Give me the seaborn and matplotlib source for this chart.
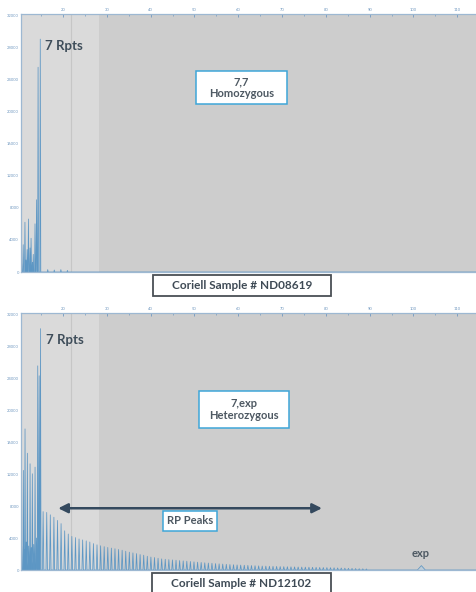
import numpy as np
import pandas as pd
import matplotlib
matplotlib.use("Agg")
import matplotlib.pyplot as plt
from matplotlib.patches import Rectangle
import seaborn as sns

# ---------------- data ----------------
# x positions (instrument units) and peak heights (RFU)
top_pos = [10.50, 10.90, 11.30, 11.55, 11.80, 12.10, 12.45, 12.70, 13.00, 13.20,
           13.60, 13.95, 14.30, 14.80, 16.5, 18.0, 19.5, 21.0]
top_h = [1800, 3400, 6200, 1500, 2800, 6600, 3000, 4200, 1200, 2200,
         6000, 9000, 25500, 29000, 300, 250, 300, 200]

bot_cluster_pos = [10.55, 10.94, 11.15, 11.32, 11.60, 11.85, 12.15, 12.47, 12.75,
                   12.99, 13.30, 13.61, 13.95, 14.22, 14.55, 14.85]
bot_cluster_h = [3000, 12450, 2500, 17640, 3500, 14600, 3000, 13280, 2800,
                 12030, 3200, 12860, 4000, 25520, 24280, 30170]

rp_pos = [15.45, 16.27, 17.09, 17.91, 18.73, 19.55, 20.37, 21.19, 22.01, 22.83,
          23.65, 24.47, 25.29, 26.11, 26.93, 27.75, 28.57, 29.39, 30.21, 31.03,
          31.85, 32.67, 33.49, 34.31, 35.13, 35.95, 36.77, 37.59, 38.41, 39.23,
          40.05, 40.87, 41.69, 42.51, 43.33, 44.15, 44.97, 45.79, 46.61, 47.43,
          48.25, 49.07, 49.89, 50.71, 51.53, 52.35, 53.17, 53.99, 54.81, 55.63,
          56.45, 57.27, 58.09, 58.91, 59.73, 60.55, 61.37, 62.19, 63.01, 63.83,
          64.65, 65.47, 66.29, 67.11, 67.93, 68.75, 69.57, 70.39, 71.21, 72.03,
          72.85, 73.67, 74.49, 75.31, 76.13, 76.95, 77.77, 78.59, 79.41, 80.23,
          81.05, 81.87, 82.69, 83.51, 84.33, 85.15, 85.97, 86.79, 87.61, 88.43,
          89.25]
rp_h = [7300, 7200, 6900, 6600, 6200, 5800, 4900, 4500, 4200, 4050,
        3880, 3760, 3640, 3500, 3300, 3150, 3030, 2920, 2820, 2740,
        2660, 2570, 2470, 2350, 2230, 2140, 2050, 1930, 1850, 1720,
        1620, 1560, 1470, 1390, 1340, 1300, 1260, 1220, 1180, 1140,
        1100, 1060, 1020, 980, 940, 900, 870, 840, 800, 770,
        740, 710, 680, 660, 640, 620, 600, 580, 560, 540,
        520, 500, 490, 470, 460, 450, 430, 420, 410, 400,
        390, 380, 370, 360, 350, 340, 330, 320, 310, 300,
        290, 280, 260, 250, 230, 210, 200, 180, 160, 150,
        130]

exp_pos = [101.8]
exp_h = [550]

x_ticks = [20, 30, 40, 50, 60, 70, 80, 90, 100, 110]
y_ticks = [0, 4000, 8000, 12000, 16000, 20000, 24000, 28000, 32000]

captions = ["Coriell Sample # ND08619", "Coriell Sample # ND12102"]
genotypes = ["7,7\nHomozygous", "7,exp\nHeterozygous"]
peak_label = "7 Rpts"

XMIN, XMAX = 10.4, 114.5
YMAX = 32000


def trace(positions, heights, width):
    xs, ys = [XMIN], [0]
    for p, h, w in sorted(zip(positions, heights, width)):
        xs += [p - w, p, p + w]
        ys += [0, h, 0]
    xs.append(XMAX)
    ys.append(0)
    return pd.DataFrame({"x": xs, "y": ys})


top_df = trace(top_pos, top_h, [0.11] * len(top_pos))
bot_pos = bot_cluster_pos + rp_pos + exp_pos
bot_h = bot_cluster_h + rp_h + exp_h
bot_w = [0.11] * len(bot_cluster_pos) + [0.16] * len(rp_pos) + [0.9]
bot_df = trace(bot_pos, bot_h, bot_w)

# ---------------- figure ----------------
sns.set_style("white")
plt.rcParams["font.family"] = ["Lato", "DejaVu Sans"]

W, H = 477, 592
fig = plt.figure(figsize=(W / 100, H / 100), dpi=100)


def fx(px):
    return px / W


def fy(py):
    return 1 - py / H


ax_top = fig.add_axes([fx(21), fy(272), fx(477) - fx(21), fy(14) - fy(272)])
ax_bot = fig.add_axes([fx(21), fy(570), fx(477) - fx(21), fy(313) - fy(570)])

LIGHT = "#dadada"
DARK = "#cdcdcd"
LINE = "#4a8cc0"
FILL = "#a9cbe6"
TXT = "#3e4d5a"
TICK = "#7098c0"

for ax, df in [(ax_top, top_df), (ax_bot, bot_df)]:
    ax.set_facecolor(DARK)
    ax.axvspan(XMIN, 28.2, color=LIGHT, lw=0, zorder=0)
    ax.axvline(21.85, color="#c6c6c6", lw=0.8, zorder=0.5)
    ax.fill_between(df["x"], df["y"], color=FILL, alpha=0.45, lw=0, zorder=1)
    sns.lineplot(data=df, x="x", y="y", ax=ax, color=LINE, lw=0.55, alpha=0.85,
                 estimator=None, sort=False, zorder=2)
    ax.set_xlim(XMIN, XMAX)
    ax.set_ylim(0, YMAX * 1.004)
    ax.set_xlabel("")
    ax.set_ylabel("")
    ax.set_xticks(x_ticks)
    ax.set_xticklabels([str(t) for t in x_ticks])
    ax.set_xticks([t + 5 for t in x_ticks[:-1]] + [15], minor=True)
    ax.set_yticks(y_ticks)
    ax.set_yticklabels([str(t) for t in y_ticks])
    ax.set_yticks([t + 2000 for t in y_ticks[:-1]], minor=True)
    ax.xaxis.tick_top()
    ax.tick_params(axis="both", which="major", labelsize=3, colors=TICK,
                   length=2.5, width=0.6, direction="in", pad=1.5)
    ax.tick_params(axis="both", which="minor", colors=TICK, length=1.5,
                   width=0.5, direction="in")
    for s in ax.spines.values():
        s.set_color("#9db8d2")
        s.set_linewidth(0.9)

# peak labels
ax_top.text(15.9, 28200, peak_label, fontsize=9.5, fontweight="bold",
            color=TXT, ha="left", va="center")
ax_bot.text(16.0, 28700, peak_label, fontsize=9.5, fontweight="bold",
            color=TXT, ha="left", va="center")


def info_box(ax, x0, x1, y0, y1, text, fs=8):
    ax.add_patch(Rectangle((x0, y0), x1 - x0, y1 - y0, transform=ax.transAxes,
                           fc="white", ec="#3ea6d8", lw=1.1, zorder=5))
    ax.text((x0 + x1) / 2, (y0 + y1) / 2, text, transform=ax.transAxes,
            ha="center", va="center", fontsize=fs, fontweight="bold",
            color="#4d5862", linespacing=1.15, zorder=6)


info_box(ax_top, 0.384, 0.583, 0.651, 0.779, genotypes[0])
info_box(ax_bot, 0.390, 0.588, 0.553, 0.697, genotypes[1])
info_box(ax_bot, 0.311, 0.430, 0.152, 0.230, "RP Peaks")

# double-headed arrow spanning the RP peaks
ax_bot.annotate("", xy=(79.1, 7720), xytext=(18.9, 7720),
                arrowprops=dict(arrowstyle="<|-|>", color="#34495e", lw=1.8,
                                mutation_scale=14, shrinkA=0, shrinkB=0),
                zorder=4)

ax_bot.text(101.6, 2100, "exp", fontsize=8, fontweight="bold", color="#4d5862",
            ha="center", va="center")

# caption boxes
for (x0, x1, y0, y1), cap in zip([(153, 331, 275, 296), (152, 331, 573, 595)],
                                 captions):
    fig.patches.append(Rectangle((fx(x0), fy(y1)), fx(x1) - fx(x0), fy(y0) - fy(y1),
                                 transform=fig.transFigure, fc="white",
                                 ec="#4a4f55", lw=1.3))
    fig.text(fx((x0 + x1) / 2), fy(y0 + 10.5), cap, ha="center", va="center",
             fontsize=8.5, fontweight="bold", color="#3e4a55")

fig.savefig("out.png", dpi=100)
